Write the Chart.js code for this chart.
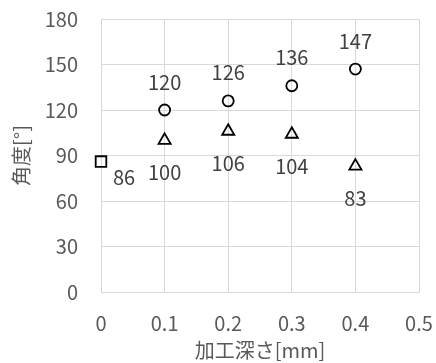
<!DOCTYPE html>
<html>
<head>
<meta charset="utf-8">
<script src="https://cdn.jsdelivr.net/npm/chart.js@4"></script>
<style>
  html, body { margin: 0; padding: 0; background: #fff; }
  #wrap { width: 436px; height: 363px; }
</style>
</head>
<body>
<div id="wrap"><canvas id="c" width="436" height="363"></canvas></div>
<script>
const xTitle = '加工深さ[mm]';
const yTitle = '角度[°]';
const xDepth = [0.1, 0.2, 0.3, 0.4];
const circleValues = [120, 126, 136, 147];
const triangleValues = [100, 106, 104, 83];
const squareX = [0];
const squareValues = [86];
const xTickMin = 0, xTickMax = 0.5, xTickStep = 0.1;
const yTickMin = 0, yTickMax = 180, yTickStep = 30;

const FONT = '"Noto Sans CJK JP", "Noto Sans", sans-serif';

const pts = (xs, ys) => xs.map((x, i) => ({ x: x, y: ys[i] }));

const labelPlugin = {
  id: 'pointLabels',
  afterDatasetsDraw(chart) {
    const ctx = chart.ctx;
    ctx.save();
    ctx.font = '20px ' + FONT;
    ctx.fillStyle = '#404040';
    ctx.textAlign = 'center';
    ctx.textBaseline = 'middle';
    chart.data.datasets.forEach((ds, di) => {
      const meta = chart.getDatasetMeta(di);
      const off = ds.labelOffset;
      meta.data.forEach((el, i) => {
        const v = ds.data[i].y;
        ctx.fillText(String(v), el.x + off.dx, el.y + off.dy);
      });
    });
    ctx.restore();
  }
};

const zeroPad = s => { s.paddingTop = 0; s.paddingBottom = 0; s.paddingLeft = 0; s.paddingRight = 0; };

new Chart(document.getElementById('c'), {
  type: 'scatter',
  data: {
    datasets: [
      {
        data: pts(xDepth, circleValues),
        pointStyle: 'circle', pointRadius: 5.5, pointBorderWidth: 1.8,
        borderColor: '#000', backgroundColor: 'rgba(0,0,0,0)',
        labelOffset: { dx: 0, dy: -28 }
      },
      {
        data: pts(xDepth, triangleValues),
        pointStyle: 'triangle', pointRadius: 7, pointBorderWidth: 1.8,
        borderColor: '#000', backgroundColor: 'rgba(0,0,0,0)',
        labelOffset: { dx: 0, dy: 32 }
      },
      {
        data: pts(squareX, squareValues),
        pointStyle: 'rect', pointRadius: 7.5, pointBorderWidth: 1.8,
        borderColor: '#000', backgroundColor: 'rgba(0,0,0,0)',
        labelOffset: { dx: 23, dy: 16 }
      }
    ]
  },
  options: {
    responsive: false,
    animation: false,
    clip: false,
    layout: { padding: { top: 19, right: 17, left: 0, bottom: 0 } },
    plugins: { legend: { display: false }, tooltip: { enabled: false } },
    scales: {
      x: {
        type: 'linear', min: xTickMin, max: xTickMax,
        ticks: { stepSize: xTickStep, color: '#595959', font: { family: FONT, size: 20 }, padding: 19,
                 callback: v => String(Math.round(v * 10) / 10) },
        grid: { color: '#d9d9d9', lineWidth: 1, drawTicks: false },
        border: { color: '#d9d9d9' },
        title: { display: true, text: xTitle, color: '#595959', font: { family: FONT, size: 20 }, padding: { top: 0, bottom: 1 } },
        afterFit: s => { s.height = 71; zeroPad(s); }
      },
      y: {
        type: 'linear', min: yTickMin, max: yTickMax,
        ticks: { stepSize: yTickStep, color: '#595959', font: { family: FONT, size: 20 }, padding: 23 },
        grid: { color: '#d9d9d9', lineWidth: 1, drawTicks: false },
        border: { color: '#d9d9d9' },
        title: { display: true, text: yTitle, color: '#595959', font: { family: FONT, size: 20 }, padding: { top: 9, bottom: 0 } },
        afterFit: s => { s.width = 101; zeroPad(s); }
      }
    }
  },
  plugins: [labelPlugin]
});
</script>
</body>
</html>
